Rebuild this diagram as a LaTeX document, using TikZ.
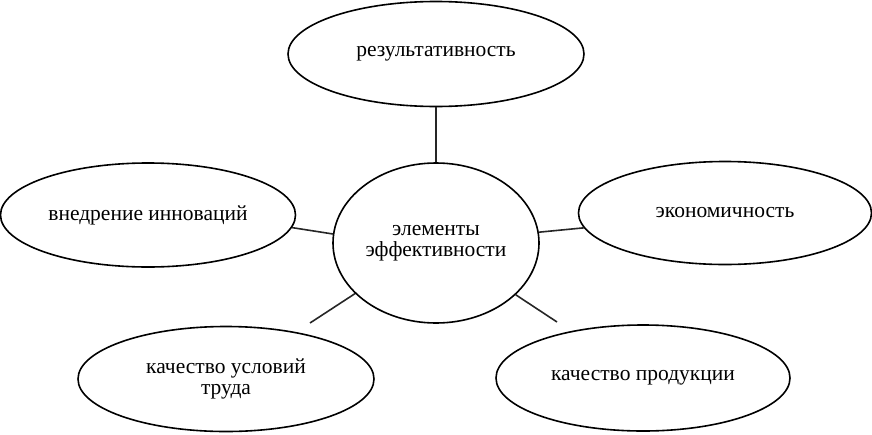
\documentclass[tikz,border=0pt]{standalone}
\usepackage{fontspec}
\setmainfont{Liberation Serif}
\usetikzlibrary{shapes.geometric}
\begin{document}
\begin{tikzpicture}[x=1pt,y=-1pt,
  oval/.style={draw=black, line width=1.6pt, ellipse, inner sep=0pt, align=center,
    font=\fontsize{21.5}{21}\selectfont},
  link/.style={draw=black!85, line width=1.6pt}]
\useasboundingbox (0,0) rectangle (872,434);
\node[oval, minimum width=296, minimum height=105] (top) at (436,54) {результативность};
\node[oval, minimum width=206, minimum height=160] (c) at (436,243) {элементы\\эффективности};
\node[oval, minimum width=295, minimum height=104] (l) at (148,215) {внедрение инноваций};
\node[oval, minimum width=293, minimum height=103] (r) at (725,213) {экономичность};
\node[oval, minimum width=296, minimum height=105] (bl) at (226,379) {качество условий\\труда};
\node[oval, minimum width=294, minimum height=106] (br) at (643,378) {качество продукции};
\coordinate (blend) at (310,323);
\coordinate (brend) at (557,322);
\draw[link] (top.south) -- (c.north);
\draw[link] (l.-5.6) -- (c.175);
\draw[link] (c.6.7) -- (r.-174.9);
\draw[link] (c.212.7) -- (blend);
\draw[link] (c.-33.4) -- (brend);
\end{tikzpicture}
\end{document}
